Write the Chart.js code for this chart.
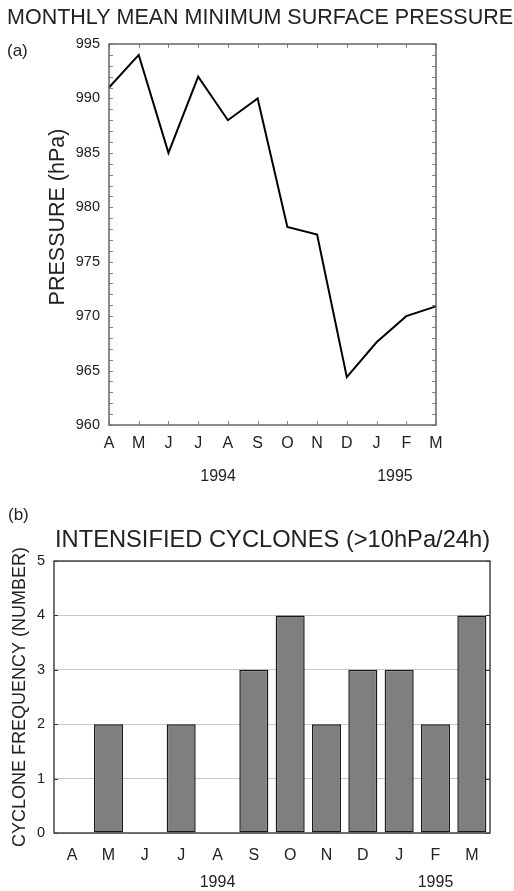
<!DOCTYPE html>
<html>
<head>
<meta charset="utf-8">
<script src="https://cdn.jsdelivr.net/npm/chart.js@4/dist/chart.umd.min.js"></script>
<style>
  html, body { margin: 0; padding: 0; background: #fff; }
  #wrap { position: relative; width: 514px; height: 891px; overflow: hidden; }
  canvas { position: absolute; left: 0; }
  #pressureChart { top: 0; }
  #cycloneChart { top: 495px; }
</style>
</head>
<body>
<div id="wrap">
  <canvas id="pressureChart" width="514" height="495"></canvas>
  <canvas id="cycloneChart" width="514" height="396"></canvas>
</div>
<script>
// Months from April 1994 to March 1995
const months = ['A', 'M', 'J', 'J', 'A', 'S', 'O', 'N', 'D', 'J', 'F', 'M'];
// Monthly mean minimum surface pressure (hPa)
const pressure = [991, 994, 985, 992, 988, 990, 978.2, 977.5, 964.4, 967.6, 970, 970.9];
// Number of cyclones deepening by more than 10 hPa in 24 h
const cyclones = [0, 2, 0, 2, 0, 3, 4, 2, 3, 3, 2, 4];
// Axis ranges and tick steps
const pressureAxis = { min: 960, max: 995, step: 5, minor: 1 };
const countAxis = { min: 0, max: 5, step: 1, minor: 1 };
// Year captions, placed at a (fractional) month index
const yearsTop = [{ text: '1994', at: 3.67 }, { text: '1995', at: 9.62 }];
const yearsBottom = [{ text: '1994', at: 4 }, { text: '1995', at: 10 }];

const FONT = '"Liberation Sans", Arial, Helvetica, sans-serif';
const INK = '#222';

// Box around the plot area plus short inward tick marks on every side
const framePlugin = {
  id: 'frame',
  afterDatasetsDraw(chart, args, opts) {
    const { ctx, chartArea: a, scales } = chart;
    ctx.save();
    ctx.lineWidth = 1;
    ctx.strokeStyle = opts.tickColor;
    const y = scales.y;
    ctx.beginPath();
    for (let v = y.min; v <= y.max + 1e-9; v += opts.yMinor) {
      const p = Math.round(y.getPixelForValue(v)) + 0.5;
      ctx.moveTo(a.left, p); ctx.lineTo(a.left + opts.len, p);
      ctx.moveTo(a.right, p); ctx.lineTo(a.right - opts.len, p);
    }
    if (opts.xTicks) {
      const x = scales.x;
      for (let i = 0; i < x.ticks.length; i++) {
        const p = Math.round(x.getPixelForTick(i)) + 0.5;
        ctx.moveTo(p, a.top); ctx.lineTo(p, a.top + opts.len);
        ctx.moveTo(p, a.bottom); ctx.lineTo(p, a.bottom - opts.len);
      }
    }
    ctx.stroke();
    ctx.strokeStyle = opts.color;
    ctx.lineWidth = opts.width;
    ctx.strokeRect(a.left, a.top, a.right - a.left, a.bottom - a.top);
    ctx.restore();
  }
};

// Titles, panel letters, rotated axis titles and year captions
const textPlugin = {
  id: 'texts',
  afterDraw(chart, args, opts) {
    const ctx = chart.ctx;
    ctx.save();
    ctx.fillStyle = INK;
    ctx.textBaseline = 'middle';
    for (const t of opts.items) {
      ctx.font = t.size + 'px ' + FONT;
      ctx.textAlign = t.align || 'left';
      if (t.rotate) {
        ctx.save();
        ctx.translate(t.x, t.y);
        ctx.rotate(-Math.PI / 2);
        ctx.textAlign = 'center';
        ctx.fillText(t.text, 0, 0);
        ctx.restore();
      } else {
        ctx.fillText(t.text, t.x, t.y);
      }
    }
    const xs = chart.scales.x;
    ctx.font = opts.yearSize + 'px ' + FONT;
    ctx.textAlign = 'center';
    for (const yr of opts.years) {
      ctx.fillText(yr.text, xs.getPixelForValue(yr.at), opts.yearY);
    }
    ctx.restore();
  }
};

Chart.defaults.font.family = FONT;
Chart.defaults.color = INK;

new Chart(document.getElementById('pressureChart'), {
  type: 'line',
  data: {
    labels: months,
    datasets: [{
      data: pressure,
      borderColor: '#000',
      borderWidth: 2,
      pointRadius: 0,
      tension: 0,
      fill: false
    }]
  },
  options: {
    responsive: false,
    animation: false,
    devicePixelRatio: 1,
    layout: { padding: { left: 0, top: 44, right: 78, bottom: 0 } },
    plugins: {
      legend: { display: false },
      tooltip: { enabled: false },
      frame: { color: '#666', width: 1.5, tickColor: '#888', len: 4, yMinor: pressureAxis.minor, xTicks: true },
      texts: {
        items: [
          { text: 'MONTHLY MEAN MINIMUM SURFACE PRESSURE', x: 7, y: 18, size: 21.5 },
          { text: '(a)', x: 7, y: 51, size: 17 },
          { text: 'PRESSURE (hPa)', x: 58, y: 217, size: 21.5, rotate: true }
        ],
        years: yearsTop, yearY: 477, yearSize: 16
      }
    },
    scales: {
      x: {
        offset: false,
        grid: { display: false, drawTicks: false },
        border: { display: false },
        ticks: { font: { size: 16 }, padding: 9, autoSkip: false, maxRotation: 0 },
        afterFit: s => { s.height = 70; }
      },
      y: {
        min: pressureAxis.min,
        max: pressureAxis.max,
        grid: { display: false, drawTicks: false },
        border: { display: false },
        ticks: { stepSize: pressureAxis.step, font: { size: 14.5 }, padding: 9 },
        afterFit: s => { s.width = 109; }
      }
    }
  },
  plugins: [framePlugin, textPlugin]
});

new Chart(document.getElementById('cycloneChart'), {
  type: 'bar',
  data: {
    labels: months,
    datasets: [{
      data: cyclones,
      backgroundColor: '#7f7f7f',
      borderColor: '#1a1a1a',
      borderWidth: 1.5,
      borderSkipped: false,
      categoryPercentage: 1,
      barPercentage: 0.8
    }]
  },
  options: {
    responsive: false,
    animation: false,
    devicePixelRatio: 1,
    layout: { padding: { left: 0, top: 66, right: 24, bottom: 0 } },
    plugins: {
      legend: { display: false },
      tooltip: { enabled: false },
      frame: { color: '#444', width: 1.5, tickColor: '#333', len: 4, yMinor: countAxis.minor, xTicks: false },
      texts: {
        items: [
          { text: '(b)', x: 8, y: 20, size: 17 },
          { text: 'INTENSIFIED CYCLONES (>10hPa/24h)', x: 55, y: 45, size: 23.7 },
          { text: 'CYCLONE FREQUENCY (NUMBER)', x: 20, y: 202, size: 18, rotate: true }
        ],
        years: yearsBottom, yearY: 388, yearSize: 16
      }
    },
    scales: {
      x: {
        grid: { display: false, drawTicks: false },
        border: { display: false },
        ticks: { font: { size: 16 }, padding: 13, autoSkip: false, maxRotation: 0 },
        afterFit: s => { s.height = 58; }
      },
      y: {
        min: countAxis.min,
        max: countAxis.max,
        grid: { color: '#c8c8c8', lineWidth: 1, drawTicks: false },
        border: { display: false },
        ticks: { stepSize: countAxis.step, font: { size: 14.5 }, padding: 9 },
        afterFit: s => { s.width = 54; }
      }
    }
  },
  plugins: [framePlugin, textPlugin]
});
</script>
</body>
</html>
